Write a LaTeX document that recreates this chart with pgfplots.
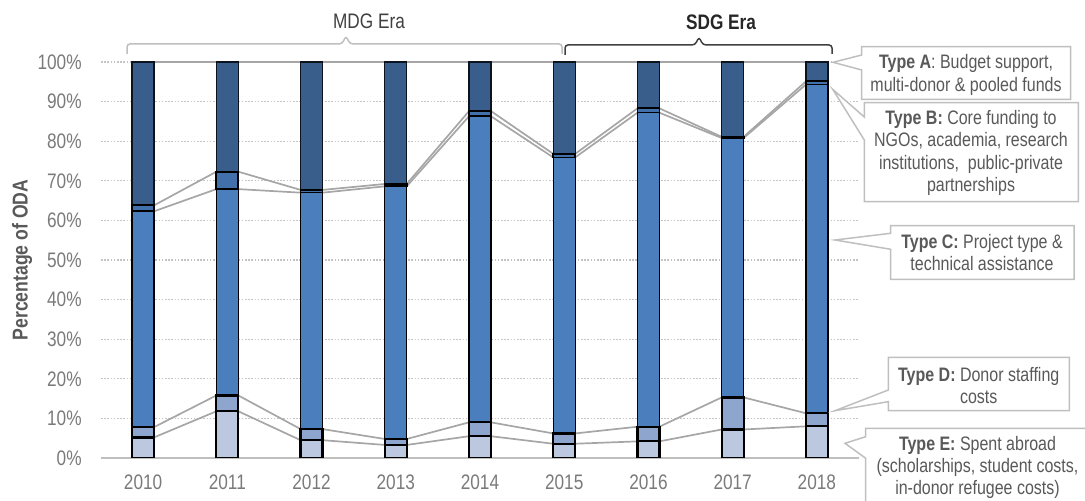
\documentclass[border=0pt]{standalone}
\usepackage{fontspec}
\setmainfont{Liberation Sans}[FakeStretch=0.82]
\usepackage{pgfplots}
\usepackage{pgfplotstable}
\pgfplotsset{compat=1.18}

\definecolor{typeA}{HTML}{3A5E8C}
\definecolor{typeB}{HTML}{4170AA}
\definecolor{typeC}{HTML}{4B7EBC}
\definecolor{typeD}{HTML}{8EA6CE}
\definecolor{typeE}{HTML}{BCC7E0}
\definecolor{serline}{HTML}{A6A6A6}
\definecolor{gridc}{HTML}{C4C4C4}
\definecolor{boxc}{HTML}{BFBFBF}
\definecolor{txt}{HTML}{595959}
\definecolor{ticktxt}{HTML}{7A7A7A}
\definecolor{darkbr}{HTML}{404040}

% Share of ODA by aid type (%), one row per year (0 = 2010)
\pgfplotstableread{
x  E    D    C     B    A
0  5.2  2.6  54.5  1.5  36.2
1  11.8 4.0  52.1  4.4  27.7
2  4.5  2.8  59.7  0.7  32.3
3  3.3  1.5  63.8  0.6  30.8
4  5.5  3.5  77.3  1.3  12.4
5  3.6  2.6  69.7  0.9  23.2
6  4.2  3.7  79.3  1.1  11.7
7  7.2  8.1  65.5  0.3  18.9
8  8.0  3.3  83.0  0.8  4.9
}\shares

% Same shares at the left and right edge of each bar, for the series lines
\pgfplotstableread{
x      E    D    C     B    A
-0.13  5.2  2.6  54.5  1.5  36.2
 0.13  5.2  2.6  54.5  1.5  36.2
 0.87  11.8 4.0  52.1  4.4  27.7
 1.13  11.8 4.0  52.1  4.4  27.7
 1.87  4.5  2.8  59.7  0.7  32.3
 2.13  4.5  2.8  59.7  0.7  32.3
 2.87  3.3  1.5  63.8  0.6  30.8
 3.13  3.3  1.5  63.8  0.6  30.8
 3.87  5.5  3.5  77.3  1.3  12.4
 4.13  5.5  3.5  77.3  1.3  12.4
 4.87  3.6  2.6  69.7  0.9  23.2
 5.13  3.6  2.6  69.7  0.9  23.2
 5.87  4.2  3.7  79.3  1.1  11.7
 6.13  4.2  3.7  79.3  1.1  11.7
 6.87  7.2  8.1  65.5  0.3  18.9
 7.13  7.2  8.1  65.5  0.3  18.9
 7.87  8.0  3.3  83.0  0.8  4.9
 8.13  8.0  3.3  83.0  0.8  4.9
}\edges

\pgfplotsset{
  frame/.style={
    width=379pt, height=198pt, scale only axis,
    at={(50.5pt,-229pt)}, anchor=south west,
    xmin=-0.5, xmax=8.5, ymin=0, ymax=100,
  },
  serieslinestyle/.style={serline, line width=0.85pt, no marks},
}

\begin{document}
\begin{tikzpicture}
% grid, tick labels and series lines
\begin{axis}[frame,
  /pgf/number format/assume math mode=true,
  axis line style={draw=none},
  major tick length=0pt,
  ytick={10,20,...,100},
  yticklabels={10\%,20\%,30\%,40\%,50\%,60\%,70\%,80\%,90\%,100\%},
  extra y ticks={0}, extra y tick labels={0\%},
  extra y tick style={grid style={solid, boxc, line width=0.75pt, dash pattern=}},
  xtick={0,...,8},
  xticklabels={2010,2011,2012,2013,2014,2015,2016,2017,2018},
  ymajorgrids,
  grid style={gridc, line width=0.6pt, dash pattern=on 0.8pt off 0.8pt},
  tick label style={ticktxt, font=\fontsize{10.5}{12}\selectfont},
  yticklabel style={anchor=east, inner sep=0pt, xshift=-9.5pt},
  xticklabel style={anchor=north, inner sep=0pt, yshift=-8pt},
]
\addplot[serieslinestyle] table[x=x, y expr=\thisrow{E}] {\edges};
\addplot[serieslinestyle] table[x=x, y expr=\thisrow{E}+\thisrow{D}] {\edges};
\addplot[serieslinestyle] table[x=x, y expr=\thisrow{E}+\thisrow{D}+\thisrow{C}] {\edges};
\addplot[serieslinestyle] table[x=x, y expr=\thisrow{E}+\thisrow{D}+\thisrow{C}+\thisrow{B}] {\edges};
\addplot[serieslinestyle] table[x=x, y expr=\thisrow{E}+\thisrow{D}+\thisrow{C}+\thisrow{B}+\thisrow{A}] {\edges};
\end{axis}

% stacked bars
\begin{axis}[frame, hide axis, ybar stacked, bar width=11pt,
  every axis plot/.append style={draw=black, line width=0.7pt}]
\addplot[fill=typeE, line width=1.1pt] table[x=x, y=E] {\shares};
\addplot[fill=typeD, line width=1.1pt] table[x=x, y=D] {\shares};
\addplot[fill=typeC] table[x=x, y=C] {\shares};
\addplot[fill=typeB, line width=0.9pt] table[x=x, y=B] {\shares};
\addplot[fill=typeA, draw=black!80!typeA] table[x=x, y=A] {\shares};
\end{axis}

\begin{scope}[x=0.5pt, y=-0.5pt]
  % axis title
  \node[rotate=90, txt, font=\fontsize{10.75}{12}\selectfont\bfseries] at (22,260) {Percentage of ODA};

  % era brackets
  \draw[boxc, line width=0.75pt, rounded corners=1.5pt]
    (127,54) -- (127,44) -- (342,44) -- (346,36) -- (350,44) -- (562,44) -- (562,54);
  \node[darkbr, font=\fontsize{10.5}{12}\selectfont] at (369,21) {MDG Era};
  \draw[darkbr, line width=0.75pt, rounded corners=1.5pt]
    (565,55) -- (565,45) -- (695,45) -- (699,37) -- (703,45) -- (832,45) -- (832,54);
  \node[black!85, font=\fontsize{10.5}{12}\selectfont\bfseries] at (721,22) {SDG Era};

  % callouts
  \begin{scope}[boxc, line width=0.75pt, fill=white]
    \filldraw (861.7,46.7) -- (1070.7,46.7) -- (1070.7,99.3) -- (861.7,99.3) -- (861.7,70) -- (833,62.3) -- (861.7,55) -- cycle;
    \filldraw (864.3,102.7) -- (1078.3,102.7) -- (1078.3,201.7) -- (864.3,201.7) -- (864.3,140) -- (832.7,89.3) -- (864.3,117) -- cycle;
    \filldraw (890.7,225.7) -- (1074,225.7) -- (1074,279.3) -- (890.7,279.3) -- (890.7,249.3) -- (835,240) -- (890.7,233.3) -- cycle;
    \filldraw (888.3,357.3) -- (1069.3,357.3) -- (1069.3,410.7) -- (888.3,410.7) -- (888.3,401.7) -- (835,410.7) -- (888.3,390) -- cycle;
    \filldraw (865.7,428.3) -- (1095,428.3) -- (1095,520) -- (865.7,520) -- (865.7,458.3) -- (845,443.3) -- (865.7,436.7) -- cycle;
  \end{scope}
  \begin{scope}[every node/.style={txt, align=center, inner sep=0pt, font=\fontsize{9.75}{11.2}\selectfont}]
    \node at (966,75) {\textbf{Type A}: Budget support,\\multi-donor \& pooled funds};
    \node at (971,153) {\textbf{Type B:} Core funding to\\NGOs, academia, research\\institutions,\ \ public-private\\partnerships};
    \node at (982,252.5) {\textbf{Type C:} Project type \&\\technical assistance};
    \node at (978.7,385.5) {\textbf{Type D:} Donor staffing\\costs};
    \node at (977.5,467.4) {\textbf{Type E:} Spent abroad\\(scholarships, student costs,\\in-donor refugee costs)};
  \end{scope}
\end{scope}

\pgfresetboundingbox
\useasboundingbox (0,0) rectangle (542.5pt,-250.5pt);
\end{tikzpicture}
\end{document}
